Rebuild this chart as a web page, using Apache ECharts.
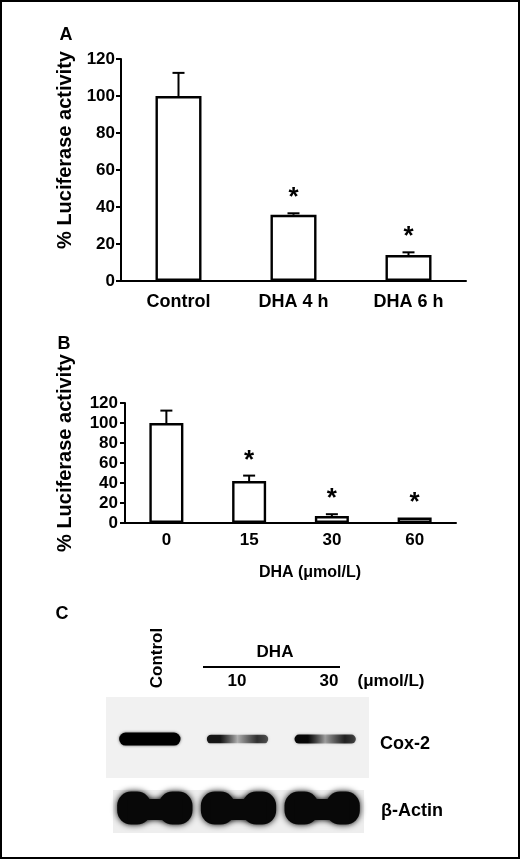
<!DOCTYPE html>
<html>
<head>
<meta charset="utf-8">
<script src="https://cdn.jsdelivr.net/npm/echarts@6/dist/echarts.min.js"></script>
<style>
  html, body { margin: 0; padding: 0; background: #fff; }
  #chart { width: 520px; height: 859px; }
</style>
</head>
<body>
<div id="chart"></div>
<script>
// Panel A - luciferase activity over time
var catsA = ['Control', 'DHA 4 h', 'DHA 6 h'];
var meanA = [100, 35.8, 14];
var errA = [12.5, 0.8, 1.5];
var starA = [0, 1, 1];

// Panel B - luciferase activity vs dose
var catsB = ['0', '15', '30', '60'];
var meanB = [100, 42, 7, 5.5];
var errB = [12.4, 5.4, 1.8, 0];
var starB = [0, 1, 1, 1];

// Panel C - western blot lanes, relative band intensity
var lanes = ['Control', '10', '30'];
var cox2Level = [1.0, 0.55, 0.6];
var actinLevel = [1, 1, 1];

var FONT = '"Liberation Sans", Arial, Helvetica, sans-serif';

function errItem(params, api) {
    var i = api.value(0), v = api.value(1), e = api.value(2), s = api.value(3);
    var base = api.coord([i, v]);
    var top = api.coord([i, v + e]);
    var kids = [];
    if (e > 0) {
        kids.push({type: 'line', shape: {x1: base[0], y1: base[1], x2: top[0], y2: top[1]},
            style: {stroke: '#000', lineWidth: 2}});
        kids.push({type: 'line', shape: {x1: top[0] - 6, y1: top[1], x2: top[0] + 6, y2: top[1]},
            style: {stroke: '#000', lineWidth: 2}});
    }
    if (s) {
        kids.push({type: 'text', x: top[0], y: top[1] - 15,
            style: {text: '*', fontSize: 26, fontWeight: 'bold', fontFamily: FONT, fill: '#000',
                align: 'center', verticalAlign: 'middle'}});
    }
    return {type: 'group', children: kids};
}

function coxItem(params, api) {
    var lvl = api.value(1);
    var c = api.coord([api.value(0), 0.48]);
    var w = api.size([1, 0])[0] * 0.7;
    var h = 3 + 10 * lvl;
    var a = function (k) { return 'rgba(0,0,0,' + Math.min(1, k) + ')'; };
    var fill = new echarts.graphic.LinearGradient(0, 0, 1, 0, [
        {offset: 0, color: a(lvl * 1.6)},
        {offset: 0.22, color: a(lvl * 1.6)},
        {offset: 0.5, color: a(Math.pow(lvl, 2.5))},
        {offset: 0.82, color: a(lvl * 1.35)},
        {offset: 1, color: a(lvl * 1.1)}
    ]);
    return {type: 'rect', shape: {x: c[0] - w / 2, y: c[1] - h / 2, width: w, height: h, r: h / 2},
        style: {fill: fill, shadowBlur: 3, shadowColor: a(lvl * 0.6)}};
}

function actinItem(params, api) {
    var lvl = api.value(1);
    var c = api.coord([api.value(0), 0.58]);
    var w = api.size([1, 0])[0] * 0.9;
    var col = 'rgba(8,8,8,' + lvl + ')';
    var ew = w * 0.45, eh = 33;
    return {type: 'group', children: [
        {type: 'rect', shape: {x: c[0] - w / 2, y: c[1] - eh / 2, width: ew, height: eh, r: 14},
            style: {fill: col, shadowBlur: 6, shadowColor: col}},
        {type: 'rect', shape: {x: c[0] + w / 2 - ew, y: c[1] - eh / 2, width: ew, height: eh, r: 14},
            style: {fill: col, shadowBlur: 6, shadowColor: col}},
        {type: 'rect', shape: {x: c[0] - w / 2 + 10, y: c[1] - 9, width: w - 20, height: 21},
            style: {fill: col, shadowBlur: 6, shadowColor: col}}
    ]};
}

var axisLineStyle = {color: '#000', width: 2};
var labelStyle = {color: '#000', fontSize: 17, fontWeight: 'bold', fontFamily: FONT};

function txt(text, x, y, size, rot) {
    return {type: 'text', x: x, y: y, rotation: rot || 0,
        style: {text: text, fontSize: size, fontWeight: 'bold', fontFamily: FONT, fill: '#000',
            align: 'center', verticalAlign: 'middle'}};
}

var chart = echarts.init(document.getElementById('chart'), null, {renderer: 'canvas'});
var option = {
    animation: false,
    backgroundColor: '#fff',
    textStyle: {fontFamily: FONT},
    grid: [
        {left: 121, top: 59, width: 345, height: 222, outerBoundsMode: 'none'},
        {left: 125, top: 403, width: 331, height: 120, outerBoundsMode: 'none'},
        {left: 106, top: 697, width: 263, height: 81, show: true, backgroundColor: '#f1f1f1', borderWidth: 0, outerBoundsMode: 'none'},
        {left: 113, top: 790, width: 251, height: 43, show: true, backgroundColor: '#eeeeee', borderWidth: 0, outerBoundsMode: 'none'}
    ],
    xAxis: [
        {gridIndex: 0, type: 'category', data: catsA,
            axisLine: {lineStyle: axisLineStyle},
            axisTick: {inside: true, length: 5, lineStyle: axisLineStyle},
            axisLabel: Object.assign({margin: 12}, labelStyle, {fontSize: 18})},
        {gridIndex: 1, type: 'category', data: catsB,
            axisLine: {lineStyle: axisLineStyle},
            axisTick: {inside: true, length: 5, lineStyle: axisLineStyle},
            axisLabel: Object.assign({margin: 9}, labelStyle)},
        {gridIndex: 2, type: 'category', data: lanes, show: false},
        {gridIndex: 3, type: 'category', data: lanes, show: false}
    ],
    yAxis: [
        {gridIndex: 0, type: 'value', min: 0, max: 120, interval: 20,
            axisLine: {show: true, lineStyle: axisLineStyle},
            axisTick: {show: true, length: 5, lineStyle: axisLineStyle},
            splitLine: {show: false},
            axisLabel: Object.assign({margin: 6}, labelStyle)},
        {gridIndex: 1, type: 'value', min: 0, max: 120, interval: 20,
            axisLine: {show: true, lineStyle: axisLineStyle},
            axisTick: {show: true, length: 5, lineStyle: axisLineStyle},
            splitLine: {show: false},
            axisLabel: Object.assign({margin: 7}, labelStyle)},
        {gridIndex: 2, type: 'value', min: 0, max: 1, show: false},
        {gridIndex: 3, type: 'value', min: 0, max: 1, show: false}
    ],
    series: [
        {type: 'bar', xAxisIndex: 0, yAxisIndex: 0, data: meanA, barWidth: 46,
            itemStyle: {color: '#fff', borderColor: '#000', borderWidth: 2.4}},
        {type: 'custom', xAxisIndex: 0, yAxisIndex: 0, renderItem: errItem, z: 5,
            data: catsA.map(function (c, i) { return [i, meanA[i], errA[i], starA[i]]; })},
        {type: 'bar', xAxisIndex: 1, yAxisIndex: 1, data: meanB, barWidth: 34,
            itemStyle: {color: '#fff', borderColor: '#000', borderWidth: 2.4}},
        {type: 'custom', xAxisIndex: 1, yAxisIndex: 1, renderItem: errItem, z: 5,
            data: catsB.map(function (c, i) { return [i, meanB[i], errB[i], starB[i]]; })},
        {type: 'custom', xAxisIndex: 2, yAxisIndex: 2, renderItem: coxItem,
            data: lanes.map(function (c, i) { return [i, cox2Level[i]]; })},
        {type: 'custom', xAxisIndex: 3, yAxisIndex: 3, renderItem: actinItem,
            data: lanes.map(function (c, i) { return [i, actinLevel[i]]; })}
    ],
    graphic: [
        {type: 'rect', shape: {x: 1, y: 1, width: 518, height: 857},
            style: {fill: 'none', stroke: '#000', lineWidth: 2}},
        txt('A', 66, 35, 18),
        txt('% Luciferase activity', 65, 150, 20, Math.PI / 2),
        txt('B', 64, 344, 18),
        txt('% Luciferase activity', 65, 453, 20, Math.PI / 2),
        txt('DHA (\u03bcmol/L)', 310, 573, 16),
        txt('C', 62, 614, 18),
        txt('Control', 157, 658, 17, Math.PI / 2),
        txt('DHA', 275, 652, 17),
        {type: 'line', shape: {x1: 203, y1: 667, x2: 340, y2: 667}, style: {stroke: '#000', lineWidth: 2}},
        txt('10', 237, 681, 17),
        txt('30', 329, 681, 17),
        txt('(\u03bcmol/L)', 391, 681, 17),
        txt('Cox-2', 405, 744, 18),
        txt('\u03b2-Actin', 412, 811, 18)
    ]
};
chart.setOption(option);
window.onresize = chart.resize;
</script>
</body>
</html>
